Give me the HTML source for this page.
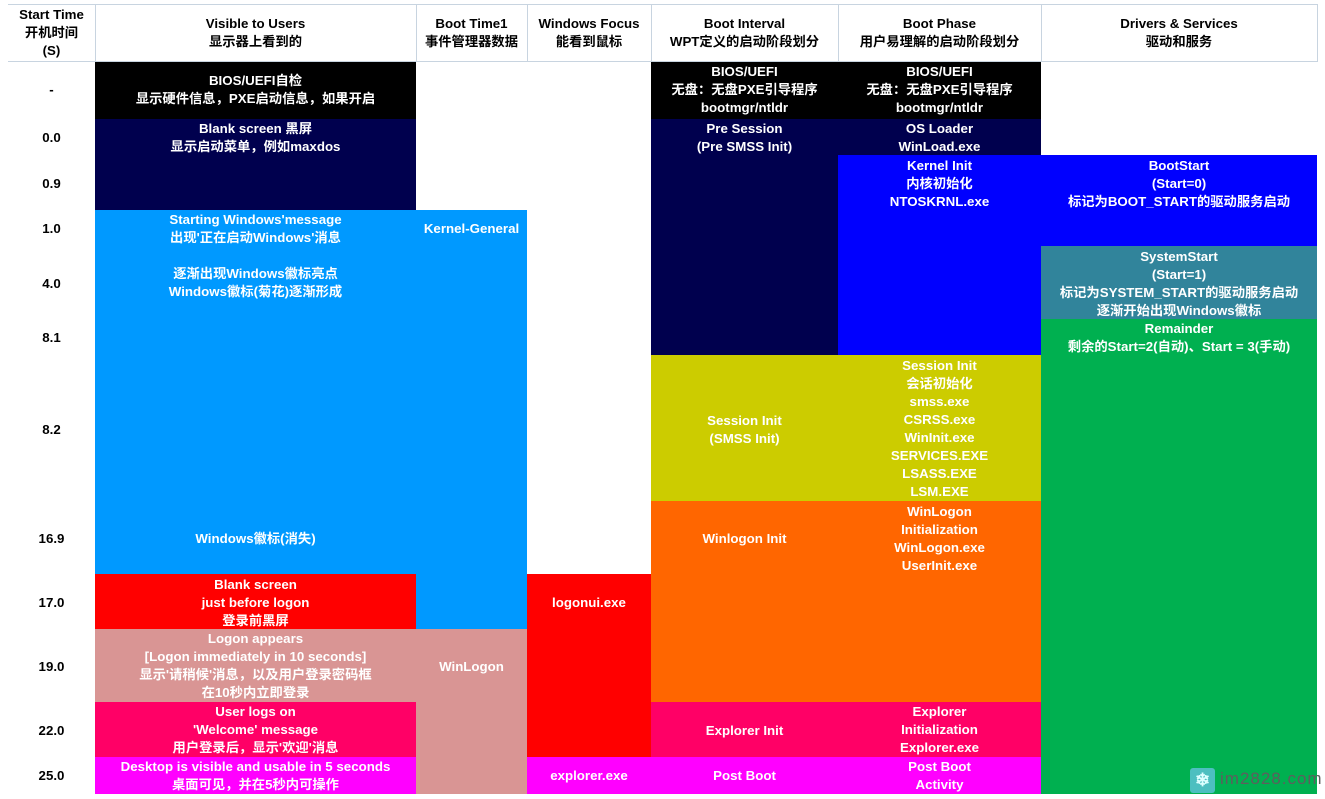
<!DOCTYPE html>
<html><head><meta charset="utf-8"><style>
body{margin:0;width:1325px;height:798px;background:#fff;position:relative;overflow:hidden;font-family:"Liberation Sans","Noto Sans CJK SC",sans-serif;font-weight:bold;font-size:13.3px}
.b{position:absolute}
.t{position:absolute;left:0;right:0;text-align:center;line-height:18px;white-space:nowrap}
.w{color:#fff}
.k{color:#000}
.hl{position:absolute;background:#c8d4e0}
</style></head><body>
<div class="hl" style="left:8px;top:4px;width:1309px;height:1px"></div>
<div class="hl" style="left:8px;top:61px;width:1309px;height:1px"></div>
<div class="hl" style="left:95px;top:4px;width:1px;height:58px"></div>
<div class="hl" style="left:416px;top:4px;width:1px;height:58px"></div>
<div class="hl" style="left:527px;top:4px;width:1px;height:58px"></div>
<div class="hl" style="left:651px;top:4px;width:1px;height:58px"></div>
<div class="hl" style="left:838px;top:4px;width:1px;height:58px"></div>
<div class="hl" style="left:1041px;top:4px;width:1px;height:58px"></div>
<div class="hl" style="left:1317px;top:4px;width:1px;height:58px"></div>

<div class="b k" style="left:8px;top:1px;width:87px;height:62px"><div class="t" style="top:5px">Start Time<br>开机时间<br>(S)</div></div>
<div class="b k" style="left:95px;top:1px;width:321px"><div class="t" style="top:14px">Visible to Users<br>显示器上看到的</div></div>
<div class="b k" style="left:416px;top:1px;width:111px"><div class="t" style="top:14px">Boot Time1<br>事件管理器数据</div></div>
<div class="b k" style="left:527px;top:1px;width:124px"><div class="t" style="top:14px">Windows Focus<br>能看到鼠标</div></div>
<div class="b k" style="left:651px;top:1px;width:187px"><div class="t" style="top:14px">Boot Interval<br>WPT定义的启动阶段划分</div></div>
<div class="b k" style="left:838px;top:1px;width:203px"><div class="t" style="top:14px">Boot Phase<br>用户易理解的启动阶段划分</div></div>
<div class="b k" style="left:1041px;top:1px;width:276px"><div class="t" style="top:14px">Drivers &amp; Services<br>驱动和服务</div></div>

<div class="b k" style="left:8px;top:1px;width:87px;height:798px">
<div class="t" style="top:80px">-</div>
<div class="t" style="top:128px">0.0</div>
<div class="t" style="top:174px">0.9</div>
<div class="t" style="top:219px">1.0</div>
<div class="t" style="top:274px">4.0</div>
<div class="t" style="top:328px">8.1</div>
<div class="t" style="top:420px">8.2</div>
<div class="t" style="top:529px">16.9</div>
<div class="t" style="top:593px">17.0</div>
<div class="t" style="top:657px">19.0</div>
<div class="t" style="top:721px">22.0</div>
<div class="t" style="top:766px">25.0</div>
</div>

<div class="b w" style="left:95px;top:62px;width:321px;height:57px;background:#000"><div class="t" style="top:10px">BIOS/UEFI自检<br>显示硬件信息，PXE启动信息，如果开启</div></div>
<div class="b w" style="left:95px;top:119px;width:321px;height:91px;background:#00004e"><div class="t" style="top:1px">Blank screen 黑屏<br>显示启动菜单，例如maxdos</div></div>
<div class="b w" style="left:95px;top:210px;width:321px;height:364px;background:#0099ff"><div class="t" style="top:1px">Starting Windows'message<br>出现'正在启动Windows'消息<br>&nbsp;<br>逐渐出现Windows徽标亮点<br>Windows徽标(菊花)逐渐形成</div><div class="t" style="top:320px">Windows徽标(消失)</div></div>
<div class="b w" style="left:95px;top:574px;width:321px;height:55px;background:#ff0000"><div class="t" style="top:2px">Blank screen<br>just before logon<br>登录前黑屏</div></div>
<div class="b w" style="left:95px;top:629px;width:321px;height:73px;background:#d99594"><div class="t" style="top:1px">Logon appears<br>[Logon immediately in 10 seconds]<br>显示'请稍候'消息，以及用户登录密码框<br>在10秒内立即登录</div></div>
<div class="b w" style="left:95px;top:702px;width:321px;height:55px;background:#ff0066"><div class="t" style="top:1px">User logs on<br>'Welcome' message<br>用户登录后，显示'欢迎'消息</div></div>
<div class="b w" style="left:95px;top:757px;width:321px;height:37px;background:#ff00ff"><div class="t" style="top:1px">Desktop is visible and usable in 5 seconds<br>桌面可见，并在5秒内可操作</div></div>

<div class="b w" style="left:416px;top:210px;width:111px;height:419px;background:#0099ff"><div class="t" style="top:10px">Kernel-General</div></div>
<div class="b w" style="left:416px;top:629px;width:111px;height:165px;background:#d99594"><div class="t" style="top:29px">WinLogon</div></div>

<div class="b w" style="left:527px;top:574px;width:124px;height:183px;background:#ff0000"><div class="t" style="top:20px">logonui.exe</div></div>
<div class="b w" style="left:527px;top:757px;width:124px;height:37px;background:#ff00ff"><div class="t" style="top:10px">explorer.exe</div></div>

<div class="b w" style="left:651px;top:62px;width:187px;height:57px;background:#000"><div class="t" style="top:1px">BIOS/UEFI<br>无盘：无盘PXE引导程序<br>bootmgr/ntldr</div></div>
<div class="b w" style="left:651px;top:119px;width:187px;height:236px;background:#00004e"><div class="t" style="top:1px">Pre Session<br>(Pre SMSS Init)</div></div>
<div class="b w" style="left:651px;top:355px;width:187px;height:146px;background:#cccc00"><div class="t" style="top:57px">Session Init<br>(SMSS Init)</div></div>
<div class="b w" style="left:651px;top:501px;width:187px;height:201px;background:#ff6600"><div class="t" style="top:29px">Winlogon Init</div></div>
<div class="b w" style="left:651px;top:702px;width:187px;height:55px;background:#ff0066"><div class="t" style="top:20px">Explorer Init</div></div>
<div class="b w" style="left:651px;top:757px;width:187px;height:37px;background:#ff00ff"><div class="t" style="top:10px">Post Boot</div></div>

<div class="b w" style="left:838px;top:62px;width:203px;height:57px;background:#000"><div class="t" style="top:1px">BIOS/UEFI<br>无盘：无盘PXE引导程序<br>bootmgr/ntldr</div></div>
<div class="b w" style="left:838px;top:119px;width:203px;height:36px;background:#00004e"><div class="t" style="top:1px">OS Loader<br>WinLoad.exe</div></div>
<div class="b w" style="left:838px;top:155px;width:203px;height:200px;background:#0000ff"><div class="t" style="top:2px">Kernel Init<br>内核初始化<br>NTOSKRNL.exe</div></div>
<div class="b w" style="left:838px;top:355px;width:203px;height:146px;background:#cccc00"><div class="t" style="top:2px">Session Init<br>会话初始化<br>smss.exe<br>CSRSS.exe<br>WinInit.exe<br>SERVICES.EXE<br>LSASS.EXE<br>LSM.EXE</div></div>
<div class="b w" style="left:838px;top:501px;width:203px;height:201px;background:#ff6600"><div class="t" style="top:2px">WinLogon<br>Initialization<br>WinLogon.exe<br>UserInit.exe</div></div>
<div class="b w" style="left:838px;top:702px;width:203px;height:55px;background:#ff0066"><div class="t" style="top:1px">Explorer<br>Initialization<br>Explorer.exe</div></div>
<div class="b w" style="left:838px;top:757px;width:203px;height:37px;background:#ff00ff"><div class="t" style="top:1px">Post Boot<br>Activity</div></div>

<div class="b w" style="left:1041px;top:155px;width:276px;height:91px;background:#0000ff"><div class="t" style="top:2px">BootStart<br>(Start=0)<br>标记为BOOT_START的驱动服务启动</div></div>
<div class="b w" style="left:1041px;top:246px;width:276px;height:73px;background:#31849b"><div class="t" style="top:2px">SystemStart<br>(Start=1)<br>标记为SYSTEM_START的驱动服务启动<br>逐渐开始出现Windows徽标</div></div>
<div class="b w" style="left:1041px;top:319px;width:276px;height:475px;background:#00b050"><div class="t" style="top:1px">Remainder<br>剩余的Start=2(自动)、Start = 3(手动)</div></div>

<div class="b" style="left:1190px;top:768px;width:25px;height:25px;background:#4dbfc0;border-radius:3px;color:#dff;font-size:18px;line-height:25px;text-align:center">❄</div>
<div class="b" style="left:1220px;top:769px;color:#5e5e5e;font-size:17px;font-weight:normal;letter-spacing:1px">im2828.com</div>
</body></html>
